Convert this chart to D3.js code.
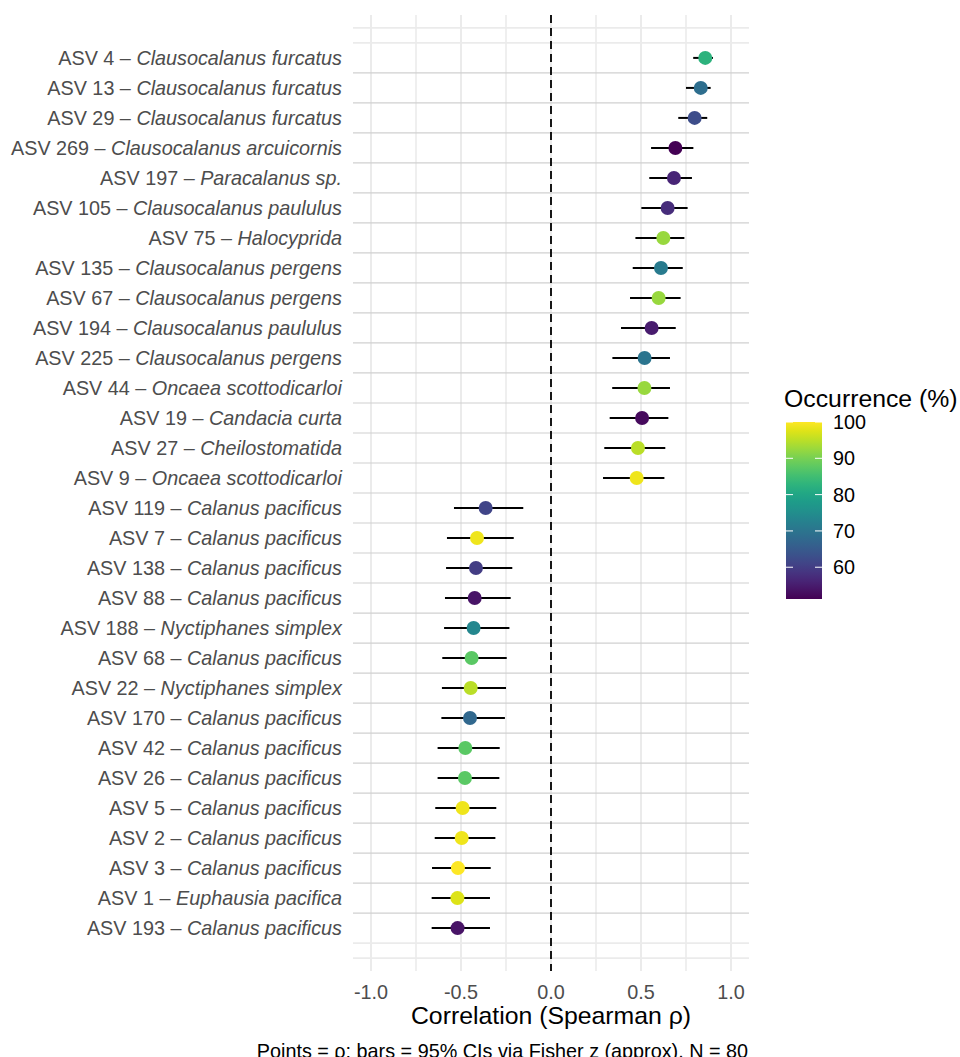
<!DOCTYPE html>
<html>
<head>
<meta charset="utf-8">
<script src="https://cdn.jsdelivr.net/npm/d3@7"></script>
<style>
  body { margin: 0; background: #fff; }
  svg { font-family: "Liberation Sans", Arial, sans-serif; }
</style>
</head>
<body>
<div id="grafico"></div>
<script>

// dati (dall'alto verso il basso)
let asv = ["ASV 4", "ASV 13", "ASV 29", "ASV 269", "ASV 197", "ASV 105", "ASV 75", "ASV 135",
    "ASV 67", "ASV 194", "ASV 225", "ASV 44", "ASV 19", "ASV 27", "ASV 9", "ASV 119", "ASV 7",
    "ASV 138", "ASV 88", "ASV 188", "ASV 68", "ASV 22", "ASV 170", "ASV 42", "ASV 26", "ASV 5",
    "ASV 2", "ASV 3", "ASV 1", "ASV 193"];

let specie = ["Clausocalanus furcatus", "Clausocalanus furcatus", "Clausocalanus furcatus",
    "Clausocalanus arcuicornis", "Paracalanus sp.", "Clausocalanus paululus", "Halocyprida",
    "Clausocalanus pergens", "Clausocalanus pergens", "Clausocalanus paululus", "Clausocalanus pergens",
    "Oncaea scottodicarloi", "Candacia curta", "Cheilostomatida", "Oncaea scottodicarloi",
    "Calanus pacificus", "Calanus pacificus", "Calanus pacificus", "Calanus pacificus",
    "Nyctiphanes simplex", "Calanus pacificus", "Nyctiphanes simplex", "Calanus pacificus",
    "Calanus pacificus", "Calanus pacificus", "Calanus pacificus", "Calanus pacificus",
    "Calanus pacificus", "Euphausia pacifica", "Calanus pacificus"];

let rho = [0.857, 0.832, 0.798, 0.691, 0.683, 0.648, 0.624, 0.611, 0.598, 0.559, 0.520, 0.519,
    0.506, 0.483, 0.476, -0.363, -0.411, -0.417, -0.424, -0.430, -0.441, -0.446, -0.450, -0.476,
    -0.478, -0.491, -0.496, -0.517, -0.520, -0.519];

let ciBasso = [0.790, 0.750, 0.707, 0.556, 0.546, 0.502, 0.469, 0.454, 0.439, 0.389, 0.341, 0.340,
    0.326, 0.296, 0.289, -0.539, -0.578, -0.583, -0.589, -0.594, -0.604, -0.606, -0.609, -0.630,
    -0.630, -0.643, -0.646, -0.661, -0.663, -0.663];

let ciAlto = [0.900, 0.887, 0.868, 0.791, 0.783, 0.759, 0.741, 0.732, 0.720, 0.693, 0.661, 0.661,
    0.652, 0.635, 0.630, -0.154, -0.207, -0.215, -0.224, -0.231, -0.246, -0.250, -0.256, -0.285,
    -0.287, -0.304, -0.309, -0.335, -0.339, -0.339];

let occorrenza = [82.5, 68.75, 62.5, 51.25, 56.25, 57.5, 92.5, 71.25, 92.5, 55, 70, 92.5, 52.5,
    95, 98.75, 61.25, 98.75, 60, 53.75, 73.75, 87.5, 95, 67.5, 87.5, 87.5, 98.75, 98.75, 100,
    97.5, 53.75];

let tickX = [-1, -0.5, 0, 0.5, 1];
let tickLegenda = [60, 70, 80, 90, 100];

let righe = asv.map((a, i) => ({
    asv: a, specie: specie[i], rho: rho[i], lo: ciBasso[i], hi: ciAlto[i], occ: occorrenza[i], pos: i + 1
}));


// dimensioni
let larghezza = 960;
let altezza = 1057;

let svg = d3.select("#grafico")
    .append("svg")
    .attr("width", larghezza)
    .attr("height", altezza);

// scale
let x = d3.scaleLinear().domain([-1.1, 1.1]).range([353, 749]);
let y = d3.scaleLinear().domain([-0.43, 31.43]).range([15, 971]);
let colore = d3.scaleSequential(d3.interpolateViridis).domain([51.25, 100]);


// griglia verticale (maggiore e minore)
let gridX = d3.range(-1, 1.01, 0.25);
svg.append("g")
    .selectAll("line")
    .data(gridX)
    .enter().append("line")
    .attr("x1", (d) => x(d))
    .attr("x2", (d) => x(d))
    .attr("y1", y.range()[0])
    .attr("y2", y.range()[1])
    .style("stroke", "#ebebeb")
    .style("stroke-width", (d) => (Math.abs(d * 2 - Math.round(d * 2)) < 1e-6 ? 2 : 1.6));

// linee orizzontali esterne (più chiare)
svg.append("g")
    .selectAll("line")
    .data([0, 0.5, 30.5, 31])
    .enter().append("line")
    .attr("x1", x.range()[0])
    .attr("x2", x.range()[1])
    .attr("y1", (d) => y(d))
    .attr("y2", (d) => y(d))
    .style("stroke", "#ebebeb")
    .style("stroke-width", 1.6);

// separatori fra le righe
svg.append("g")
    .selectAll("line")
    .data(d3.range(1.5, 30, 1))
    .enter().append("line")
    .attr("x1", x.range()[0])
    .attr("x2", x.range()[1])
    .attr("y1", (d) => y(d))
    .attr("y2", (d) => y(d))
    .style("stroke", "#d0d0d0")
    .style("stroke-width", 1.2);

// linea tratteggiata a zero
svg.append("line")
    .attr("x1", x(0))
    .attr("x2", x(0))
    .attr("y1", y.range()[0])
    .attr("y2", y.range()[1])
    .style("stroke", "#000")
    .style("stroke-width", 1.8)
    .style("stroke-dasharray", "8,5");

// barre degli intervalli di confidenza
svg.append("g")
    .selectAll("line")
    .data(righe)
    .enter().append("line")
    .attr("x1", (d) => x(d.lo))
    .attr("x2", (d) => x(d.hi))
    .attr("y1", (d) => y(d.pos))
    .attr("y2", (d) => y(d.pos))
    .style("stroke", "#000")
    .style("stroke-width", 2);

// punti
svg.append("g")
    .selectAll("circle")
    .data(righe)
    .enter().append("circle")
    .attr("cx", (d) => x(d.rho))
    .attr("cy", (d) => y(d.pos))
    .attr("r", 7)
    .style("fill", (d) => colore(d.occ));


// etichette asse y (ASV normale, specie in corsivo)
let etichette = svg.append("g")
    .selectAll("text")
    .data(righe)
    .enter().append("text")
    .attr("x", 342)
    .attr("y", (d) => y(d.pos))
    .attr("dy", "0.36em")
    .style("text-anchor", "end")
    .style("font-size", "19.8px")
    .style("fill", "#4d4d4d");

etichette.append("tspan").text((d) => d.asv + " \u2013 ");
etichette.append("tspan").style("font-style", "italic").text((d) => d.specie);


// asse x
svg.append("g")
    .selectAll("text")
    .data(tickX)
    .enter().append("text")
    .attr("x", (d) => x(d))
    .attr("y", 999)
    .style("text-anchor", "middle")
    .style("font-size", "19.8px")
    .style("fill", "#4d4d4d")
    .text((d) => d3.format(".1f")(d).replace("\u2212", "-"));

svg.append("text")
    .attr("x", x(0))
    .attr("y", 1024)
    .style("text-anchor", "middle")
    .style("font-size", "24.8px")
    .style("fill", "#000")
    .text("Correlation (Spearman \u03c1)");

// didascalia
svg.append("text")
    .attr("x", 748)
    .attr("y", 1058)
    .style("text-anchor", "end")
    .style("font-size", "19.8px")
    .style("fill", "#000")
    .text("Points = \u03c1; bars = 95% CIs via Fisher z (approx). N = 80");


// legenda colore
let defs = svg.append("defs");
let gradiente = defs.append("linearGradient")
    .attr("id", "viridis")
    .attr("x1", 0).attr("y1", 1)
    .attr("x2", 0).attr("y2", 0);

d3.range(0, 1.001, 0.05).forEach((t) => {
    gradiente.append("stop")
        .attr("offset", t)
        .attr("stop-color", d3.interpolateViridis(t));
});

let legY = d3.scaleLinear().domain([51.25, 100]).range([599, 422]);
let legX = 786;
let legW = 36;

svg.append("text")
    .attr("x", 784)
    .attr("y", 407)
    .style("font-size", "24.8px")
    .style("fill", "#000")
    .text("Occurrence (%)");

svg.append("rect")
    .attr("x", legX)
    .attr("y", legY(100))
    .attr("width", legW)
    .attr("height", legY(51.25) - legY(100))
    .style("fill", "url(#viridis)");

// tacche bianche della barra colore
let tacche = svg.append("g");
tickLegenda.forEach((v) => {
    tacche.append("line")
        .attr("x1", legX).attr("x2", legX + 7)
        .attr("y1", legY(v)).attr("y2", legY(v))
        .style("stroke", "#fff").style("stroke-width", 1);
    tacche.append("line")
        .attr("x1", legX + legW - 7).attr("x2", legX + legW)
        .attr("y1", legY(v)).attr("y2", legY(v))
        .style("stroke", "#fff").style("stroke-width", 1);
});

svg.append("g")
    .selectAll("text")
    .data(tickLegenda)
    .enter().append("text")
    .attr("x", 833)
    .attr("y", (d) => legY(d))
    .attr("dy", "0.36em")
    .style("font-size", "19.8px")
    .style("fill", "#000")
    .text((d) => d);

</script>
</body>
</html>
